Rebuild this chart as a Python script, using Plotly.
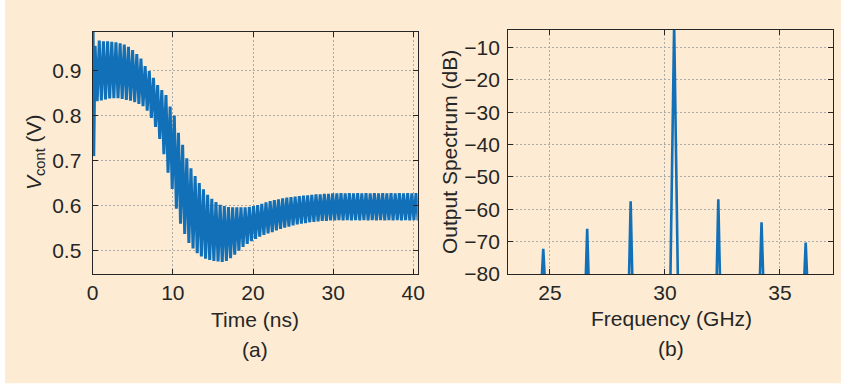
import plotly.graph_objects as go

# ---------------- data (a): control voltage vs time ----------------
time_start_ns = [0.00, 0.05, 0.13]
vcont_start_v = [0.78, 0.987, 0.71]

time_high_ns = [0.30, 0.82, 1.34, 1.86, 2.38, 2.90, 3.42, 3.94, 4.46, 4.98,
                5.50, 6.02, 6.54, 7.06, 7.58, 8.10, 8.62, 9.14, 9.66, 10.18,
                10.70, 11.22, 11.74, 12.26, 12.78, 13.30, 13.82, 14.34, 14.86, 15.38,
                15.90, 16.42, 16.94, 17.46, 17.98, 18.50, 19.02, 19.54, 20.06, 20.58,
                21.10, 21.62, 22.14, 22.66, 23.18, 23.70, 24.22, 24.74, 25.26, 25.78,
                26.30, 26.82, 27.34, 27.86, 28.38, 28.90, 29.42, 29.94, 30.46, 30.98,
                31.50, 32.02, 32.54, 33.06, 33.58, 34.10, 34.62, 35.14, 35.66, 36.18,
                36.70, 37.22, 37.74, 38.26, 38.78, 39.30, 39.82, 40.34]
vcont_high_v = [0.955, 0.967, 0.965, 0.965, 0.964, 0.963, 0.961, 0.958, 0.953, 0.946,
                0.937, 0.927, 0.910, 0.899, 0.884, 0.868, 0.857, 0.846, 0.820, 0.800,
                0.762, 0.735, 0.705, 0.683, 0.666, 0.650, 0.636, 0.624, 0.615, 0.608,
                0.602, 0.599, 0.597, 0.596, 0.596, 0.596, 0.596, 0.597, 0.599, 0.601,
                0.604, 0.607, 0.610, 0.612, 0.614, 0.616, 0.618, 0.619, 0.620, 0.621,
                0.622, 0.623, 0.624, 0.625, 0.625, 0.626, 0.626, 0.627, 0.627, 0.628,
                0.627, 0.628, 0.627, 0.628, 0.627, 0.628, 0.627, 0.628, 0.627, 0.628,
                0.627, 0.628, 0.627, 0.628, 0.627, 0.628, 0.627, 0.628]

time_low_ns = [0.56, 1.08, 1.60, 2.12, 2.64, 3.16, 3.68, 4.20, 4.72, 5.24,
               5.76, 6.28, 6.80, 7.32, 7.84, 8.36, 8.88, 9.40, 9.92, 10.44,
               10.96, 11.48, 12.00, 12.52, 13.04, 13.56, 14.08, 14.60, 15.12, 15.64,
               16.16, 16.68, 17.20, 17.72, 18.24, 18.76, 19.28, 19.80, 20.32, 20.84,
               21.36, 21.88, 22.40, 22.92, 23.44, 23.96, 24.48, 25.00, 25.52, 26.04,
               26.56, 27.08, 27.60, 28.12, 28.64, 29.16, 29.68, 30.20, 30.72, 31.24,
               31.76, 32.28, 32.80, 33.32, 33.84, 34.36, 34.88, 35.40, 35.92, 36.44,
               36.96, 37.48, 38.00, 38.52, 39.04, 39.56, 40.08, 40.60]
vcont_low_v = [0.832, 0.834, 0.836, 0.838, 0.839, 0.839, 0.837, 0.835, 0.833, 0.830,
               0.826, 0.821, 0.811, 0.795, 0.775, 0.748, 0.714, 0.673, 0.637, 0.593,
               0.560, 0.537, 0.517, 0.505, 0.494, 0.487, 0.482, 0.479, 0.477, 0.476,
               0.475, 0.477, 0.483, 0.491, 0.500, 0.508, 0.515, 0.521, 0.526, 0.531,
               0.535, 0.538, 0.541, 0.545, 0.548, 0.551, 0.553, 0.556, 0.558, 0.560,
               0.561, 0.563, 0.564, 0.565, 0.566, 0.566, 0.567, 0.567, 0.568, 0.567,
               0.568, 0.567, 0.568, 0.567, 0.568, 0.567, 0.568, 0.567, 0.568, 0.567,
               0.568, 0.567, 0.568, 0.567, 0.568, 0.567, 0.568, 0.567]

time_ticks = [0, 10, 20, 30, 40]
vcont_ticks = [0.5, 0.6, 0.7, 0.8, 0.9]

# ---------------- data (b): output spectrum ----------------
peak_freq_ghz = [24.71, 26.62, 28.51, 30.40, 32.32, 34.20, 36.12]
peak_level_db = [-72.2, -66.0, -57.5, -3.0, -56.9, -64.0, -70.3]
peak_halfwidth_ghz = [0.06, 0.06, 0.07, 0.16, 0.07, 0.07, 0.06]
floor_db = -80.5

freq_ticks = [25, 30, 35]
db_ticks = [-80, -70, -60, -50, -40, -30, -20, -10]

# ---------------- build traces ----------------
t_series = list(time_start_ns)
v_series = list(vcont_start_v)
for th, vh, tl, vl in zip(time_high_ns, vcont_high_v, time_low_ns, vcont_low_v):
    t_series += [th, tl]
    v_series += [vh, vl]

f_series, s_series = [], []
for f, lvl, hw in zip(peak_freq_ghz, peak_level_db, peak_halfwidth_ghz):
    f_series += [f - hw, f, f + hw, None]
    s_series += [floor_db, lvl, floor_db, None]

BLUE = "#1170B8"
INK = "#262626"
PEACH = "#FDEBD3"
FONT = "Liberation Sans, Arial, sans-serif"
FS = 21

fig = go.Figure()
fig.add_trace(go.Scatter(x=t_series, y=v_series, mode="lines",
                         line=dict(color=BLUE, width=3.0), xaxis="x", yaxis="y",
                         showlegend=False))
fig.add_trace(go.Scatter(x=f_series, y=s_series, mode="lines",
                         line=dict(color=BLUE, width=2.6), xaxis="x2", yaxis="y2",
                         showlegend=False))

W, H = 841, 385

def ax(**kw):
    d = dict(showline=True, linecolor=INK, linewidth=1.3, mirror="ticks",
             ticks="inside", ticklen=5, tickcolor=INK, tickwidth=1.2,
             showgrid=True, gridcolor="#ababab", gridwidth=1, griddash="2px,2px",
             zeroline=False, automargin=False,
             tickfont=dict(family=FONT, size=FS, color=INK))
    d.update(kw)
    return d

fig.update_layout(
    width=W, height=H,
    margin=dict(l=0, r=0, t=0, b=0),
    paper_bgcolor="white", plot_bgcolor="white",
    font=dict(family=FONT, size=FS, color=INK),
    xaxis=ax(domain=[92.7 / W, 417.7 / W], range=[0, 40.55], tickvals=time_ticks,
             anchor="y"),
    yaxis=ax(domain=[(H - 274) / H, (H - 31.5) / H], range=[0.448, 0.987],
             tickvals=vcont_ticks, ticktext=[f"{v:.1f}" for v in vcont_ticks],
             anchor="x", ticklabelstandoff=6),
    xaxis2=ax(domain=[508.3 / W, 833.3 / W], range=[23.19, 37.32], tickvals=freq_ticks,
              anchor="y2"),
    yaxis2=ax(domain=[(H - 274) / H, (H - 30) / H], range=[-80, -4.6],
              tickvals=db_ticks, anchor="x2", ticklabelstandoff=3),
    shapes=[dict(type="rect", xref="paper", yref="paper", x0=5 / W, x1=1,
                 y0=1.7 / H, y1=1, fillcolor=PEACH, line=dict(width=0), layer="below")],
)

def px_note(text, x, y, angle=0):
    fig.add_annotation(text=text, x=x / W, y=1 - y / H, xref="paper", yref="paper",
                       showarrow=False, textangle=angle, xanchor="center",
                       yanchor="middle", font=dict(family=FONT, size=FS, color=INK))

px_note("Time (ns)", 255, 319)
px_note("(a)", 255, 349)
px_note("Frequency (GHz)", 671, 318)
px_note("(b)", 671, 348)
px_note("<i>V</i><sub>cont</sub> (V)", 35, 152, -90)
px_note("Output Spectrum (dB)", 449, 152, -90)

fig.write_html("out.html", config={"displayModeBar": False},
               post_script="document.body.style.margin='0';document.body.style.padding='0';")
